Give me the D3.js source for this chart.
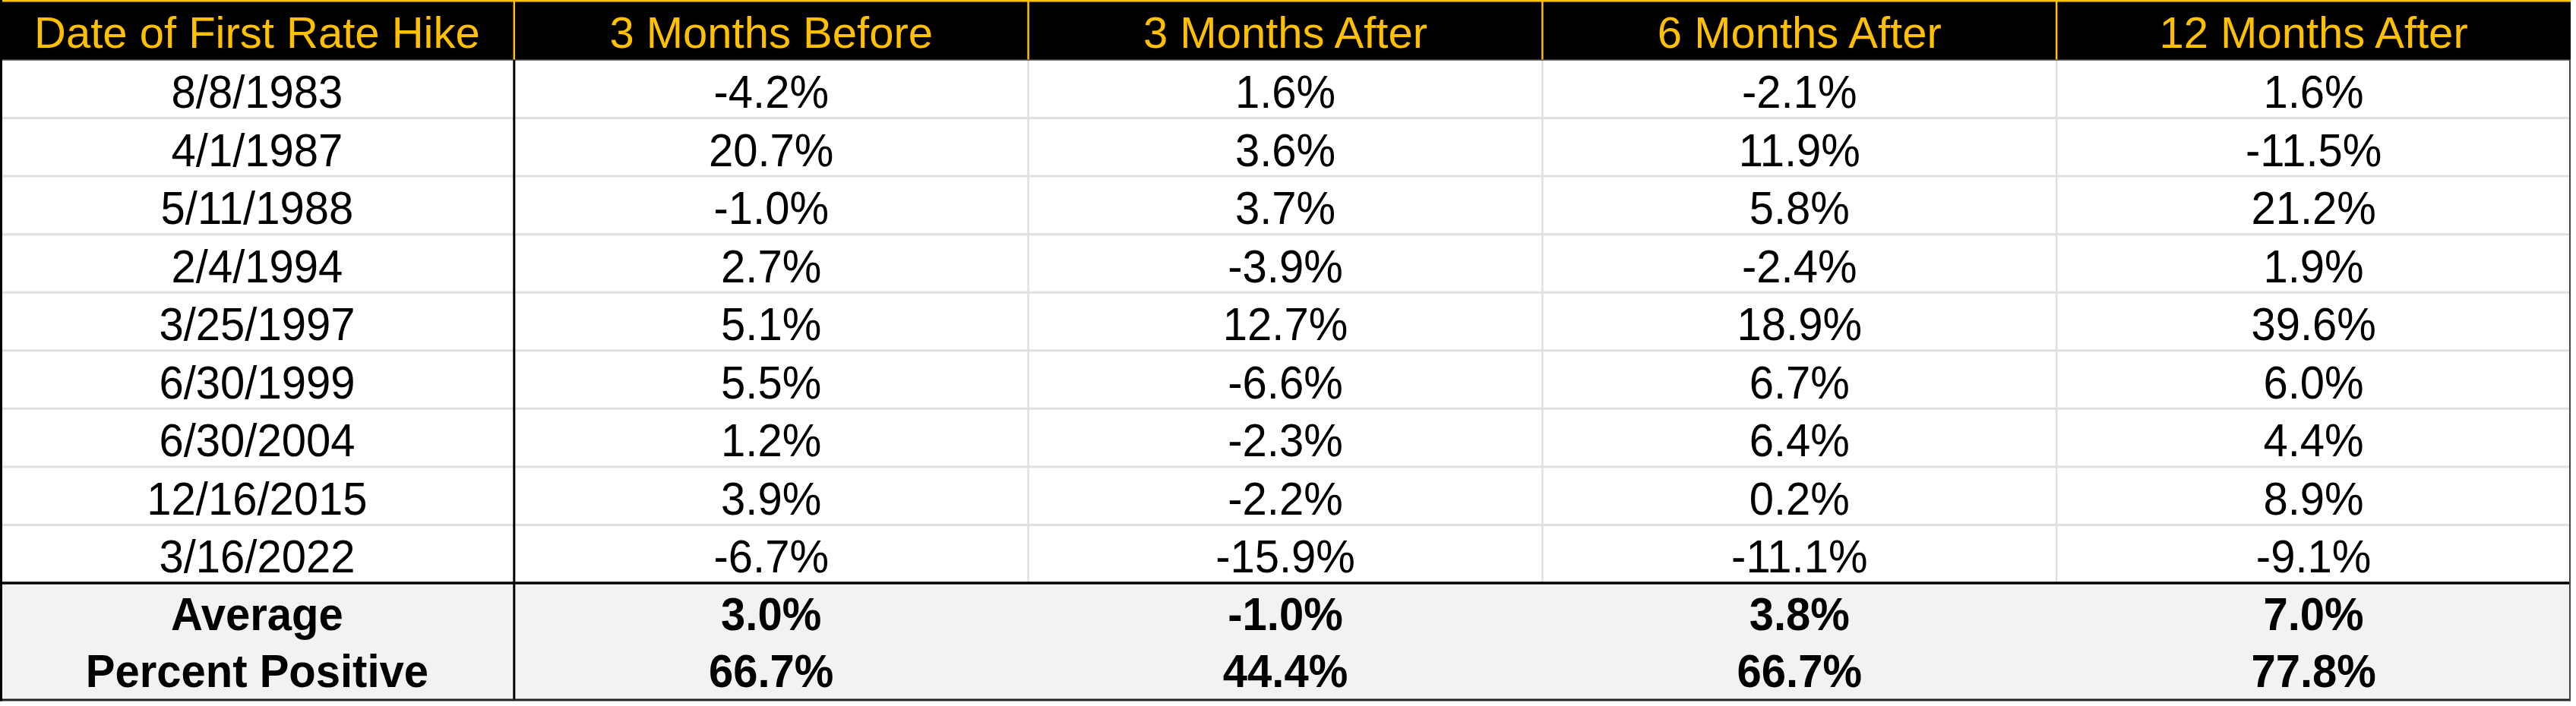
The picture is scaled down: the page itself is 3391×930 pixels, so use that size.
<!DOCTYPE html>
<html>
<head>
<meta charset="utf-8">
<script src="https://cdn.jsdelivr.net/npm/d3@7"></script>
<style>
  html, body { margin: 0; padding: 0; background: #fff; }
  svg { display: block; }
</style>
</head>
<body>
<script>
// table contents
const headers = ["Date of First Rate Hike", "3 Months Before", "3 Months After", "6 Months After", "12 Months After"];
const dates = ["8/8/1983", "4/1/1987", "5/11/1988", "2/4/1994", "3/25/1997", "6/30/1999", "6/30/2004", "12/16/2015", "3/16/2022"];
const before3 = [-4.2, 20.7, -1.0, 2.7, 5.1, 5.5, 1.2, 3.9, -6.7];
const after3 = [1.6, 3.6, 3.7, -3.9, 12.7, -6.6, -2.3, -2.2, -15.9];
const after6 = [-2.1, 11.9, 5.8, -2.4, 18.9, 6.7, 6.4, 0.2, -11.1];
const after12 = [1.6, -11.5, 21.2, 1.9, 39.6, 6.0, 4.4, 8.9, -9.1];
const summaryLabels = ["Average", "Percent Positive"];
const average = [3.0, -1.0, 3.8, 7.0];
const percentPositive = [66.7, 44.4, 66.7, 77.8];

const width = 3391, height = 930;
const tableW = 3384;
const headerH = 79, bodyBottom = 768, tableBottom = 922;
const orange = "#FFC000";
const font = "'Liberation Sans', Arial, Helvetica, sans-serif";
const stretch = 1.04; // body glyphs are a touch taller than wide in the original

// plain hyphen for negatives, like the spreadsheet
const fmt = d3.formatLocale({decimal: ".", thousands: ",", grouping: [3], currency: ["$", ""], minus: "-"}).format(".1f");
const pct = (v) => fmt(v) + "%";

const series = [before3, after3, after6, after12];
const rows = dates.map((d, i) => [d, ...series.map((s) => pct(s[i]))]);
const summary = [
  [summaryLabels[0], ...average.map(pct)],
  [summaryLabels[1], ...percentPositive.map(pct)]
];

const x = d3.scaleBand().domain(headers).range([0, tableW]);
const y = d3.scaleBand().domain(dates).range([headerH, bodyBottom]);
const ySum = d3.scalePoint().domain(summaryLabels).range([830, 905]);

const svg = d3.select("body").append("svg")
  .attr("width", width)
  .attr("height", height)
  .style("font-family", font);

// backgrounds
svg.append("rect").attr("x", 0).attr("y", 0).attr("width", tableW).attr("height", headerH).attr("fill", "#000");
svg.append("rect").attr("x", 0).attr("y", bodyBottom).attr("width", tableW).attr("height", tableBottom - bodyBottom).attr("fill", "#f2f2f2");

// row lines
svg.append("g")
  .selectAll("line")
  .data(dates.slice(1))
  .join("line")
  .attr("x1", 0).attr("x2", tableW)
  .attr("y1", (d) => y(d)).attr("y2", (d) => y(d))
  .attr("stroke", "#e0e0e0").attr("stroke-width", 3);

// light column lines in the body
svg.append("g")
  .selectAll("line")
  .data(headers.slice(2))
  .join("line")
  .attr("x1", (d) => x(d)).attr("x2", (d) => x(d))
  .attr("y1", headerH).attr("y2", bodyBottom)
  .attr("stroke", "#e0e0e0").attr("stroke-width", 2.5);

// orange column lines in the header
svg.append("g")
  .selectAll("line")
  .data(headers.slice(1))
  .join("line")
  .attr("x1", (d) => x(d)).attr("x2", (d) => x(d))
  .attr("y1", 0).attr("y2", headerH)
  .attr("stroke", orange).attr("stroke-width", 2.5);

// header bottom, top orange rule
svg.append("line").attr("x1", 0).attr("x2", tableW).attr("y1", headerH).attr("y2", headerH)
  .attr("stroke", "#555").attr("stroke-width", 1.5);
svg.append("line").attr("x1", 0).attr("x2", tableW).attr("y1", 1.2).attr("y2", 1.2)
  .attr("stroke", orange).attr("stroke-width", 2.5);

// black divider after the date column
svg.append("line")
  .attr("x1", x(headers[1])).attr("x2", x(headers[1]))
  .attr("y1", headerH).attr("y2", tableBottom)
  .attr("stroke", "#000").attr("stroke-width", 3);

// summary separator and outer borders
svg.append("line").attr("x1", 0).attr("x2", tableW).attr("y1", bodyBottom).attr("y2", bodyBottom)
  .attr("stroke", "#000").attr("stroke-width", 3.5);
svg.append("line").attr("x1", 0).attr("x2", tableW).attr("y1", tableBottom).attr("y2", tableBottom)
  .attr("stroke", "#222").attr("stroke-width", 3);
svg.append("line").attr("x1", 1.5).attr("x2", 1.5).attr("y1", 0).attr("y2", tableBottom + 1.5)
  .attr("stroke", "#000").attr("stroke-width", 3);
svg.append("line").attr("x1", tableW - 1).attr("x2", tableW - 1).attr("y1", headerH).attr("y2", tableBottom + 1.5)
  .attr("stroke", "#444").attr("stroke-width", 2);

const cx = (i) => x(headers[i]) + x.bandwidth() / 2;

// header text
svg.append("g")
  .selectAll("text")
  .data(headers)
  .join("text")
  .attr("x", (d) => x(d) + x.bandwidth() / 2)
  .attr("y", 63)
  .attr("text-anchor", "middle")
  .attr("font-size", 58)
  .attr("fill", orange)
  .text((d) => d);

// body text
svg.append("g")
  .selectAll("g")
  .data(rows)
  .join("g")
  .attr("transform", (r) => `translate(0,${y(r[0]) + 63})`)
  .selectAll("text")
  .data((r) => r)
  .join("text")
  .attr("transform", (d, i) => `translate(${cx(i)},0) scale(1,${stretch})`)
  .attr("text-anchor", "middle")
  .attr("font-size", 58)
  .attr("fill", "#000")
  .text((d) => d);

// summary text
svg.append("g")
  .selectAll("g")
  .data(summary)
  .join("g")
  .attr("transform", (r) => `translate(0,${ySum(r[0])})`)
  .selectAll("text")
  .data((r) => r)
  .join("text")
  .attr("transform", (d, i) => `translate(${cx(i)},0) scale(1,${stretch})`)
  .attr("text-anchor", "middle")
  .attr("font-size", 58)
  .attr("font-weight", "bold")
  .attr("fill", "#000")
  .text((d) => d);
</script>
</body>
</html>
